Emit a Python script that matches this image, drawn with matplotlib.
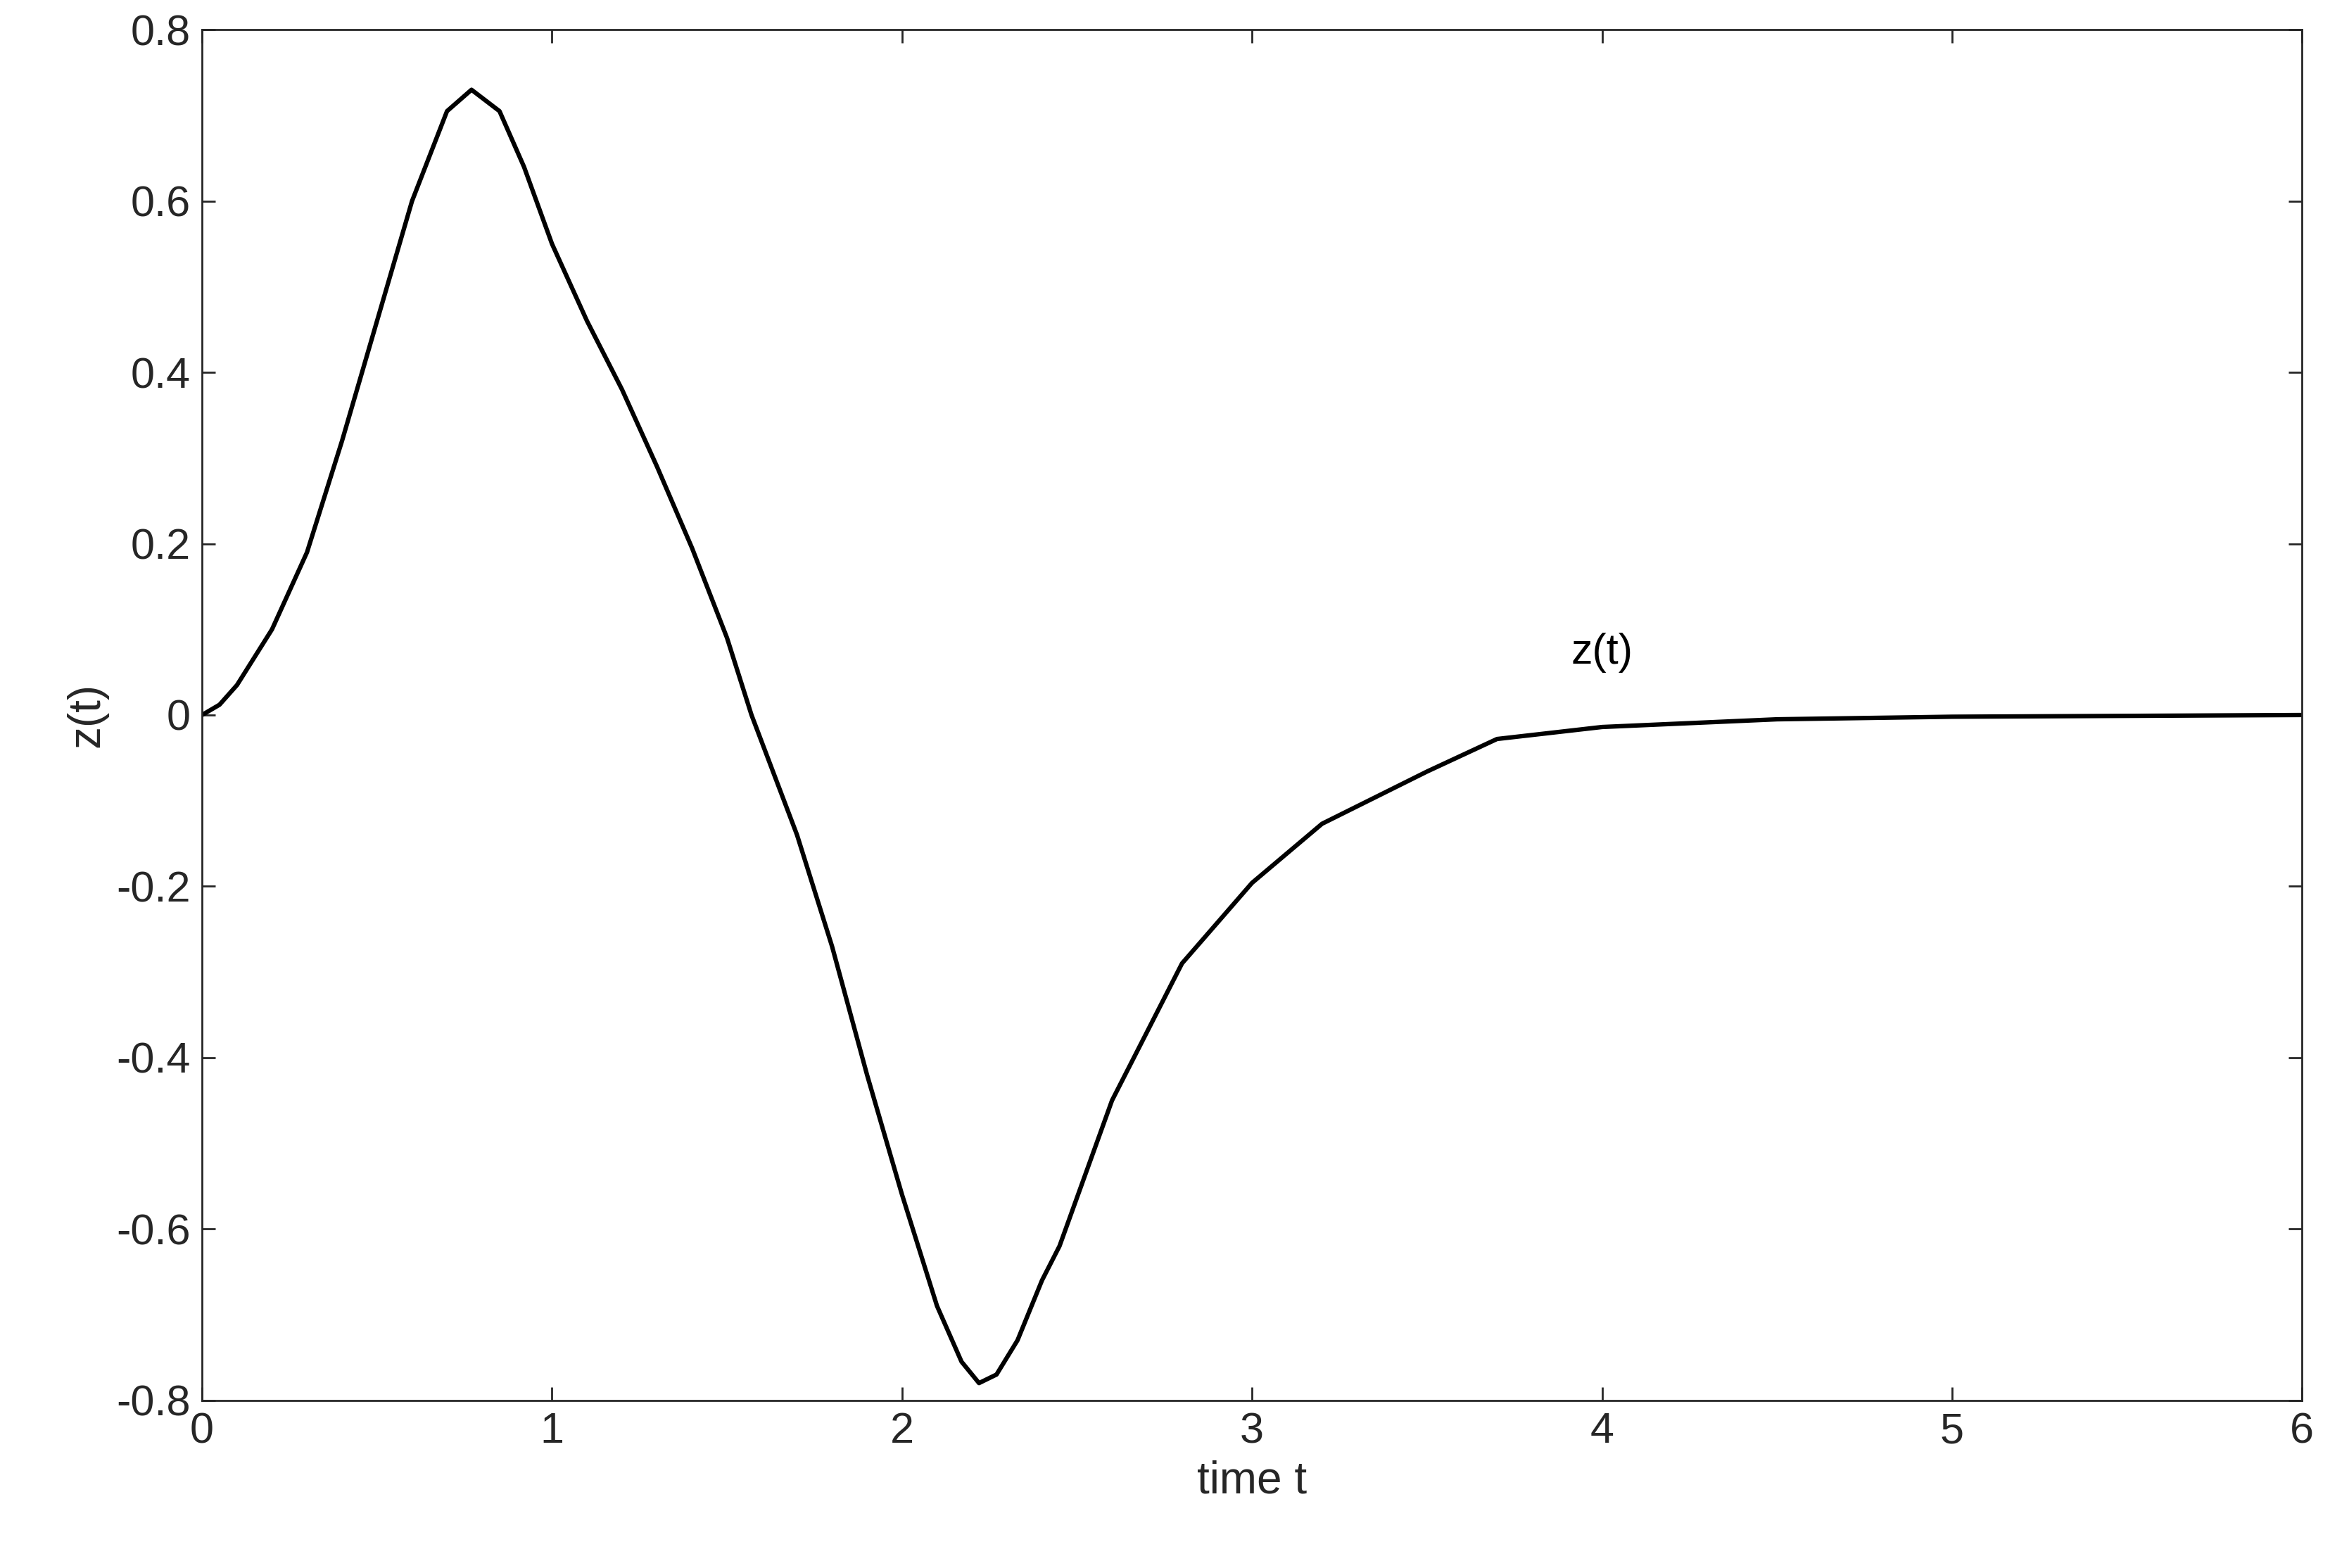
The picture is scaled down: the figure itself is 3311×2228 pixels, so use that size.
import numpy as np
import matplotlib.pyplot as plt

plt.rcParams['font.family'] = ['Liberation Sans', 'DejaVu Sans']

# values
t = [0.0, 0.05, 0.1, 0.2, 0.3, 0.4, 0.5, 0.6, 0.7, 0.77, 0.85, 0.92, 1.0, 1.1, 1.2,
     1.3, 1.4, 1.5, 1.57, 1.7, 1.8, 1.9, 2.0, 2.1, 2.17, 2.22, 2.27, 2.33, 2.4, 2.45,
     2.6, 2.8, 3.0, 3.2, 3.5, 3.7, 4.0, 4.5, 5.0, 6.0]
z = [0.0, 0.012, 0.035, 0.10, 0.19, 0.32, 0.46, 0.60, 0.705, 0.73, 0.705, 0.64, 0.55,
     0.46, 0.38, 0.29, 0.195, 0.09, 0.0, -0.14, -0.27, -0.42, -0.56, -0.69, -0.755,
     -0.78, -0.77, -0.73, -0.66, -0.62, -0.45, -0.29, -0.196, -0.127, -0.066, -0.028,
     -0.014, -0.005, -0.002, 0.0]

fig = plt.figure(figsize=(33.11, 22.28), dpi=100)
ax = fig.add_axes([0.0867, 0.107, 0.9013, 0.874])
ax.plot(t, z, color='black', linewidth=4.5)
ax.text(4.0, 0.06, 'z(t)', fontsize=44, ha='center')

ax.set_xlim(0, 6)
ax.set_ylim(-0.8, 0.8)
ax.set_xticks(np.arange(0, 7, 1))
ax.set_yticks(np.round(np.arange(-0.8, 0.81, 0.2), 1))
ax.set_yticklabels(['-0.8', '-0.6', '-0.4', '-0.2', '0', '0.2', '0.4', '0.6', '0.8'])
ax.tick_params(direction='in', top=True, right=True, length=14, width=2,
               labelsize=44, colors='#262626', pad=12)
for s in ax.spines.values():
    s.set_linewidth(2)
    s.set_color('#262626')
ax.set_xlabel('time t', fontsize=46, color='#262626', labelpad=8)
ax.set_ylabel('z(t)', fontsize=46, color='#262626', labelpad=8)

fig.savefig('out.png')
